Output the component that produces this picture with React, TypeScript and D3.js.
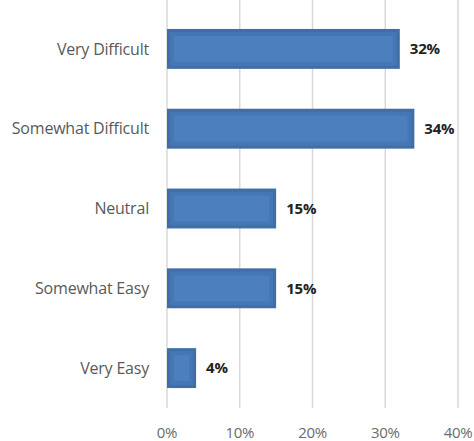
import React from "react";
import * as d3 from "d3";

const categories = ["Very Difficult", "Somewhat Difficult", "Neutral", "Somewhat Easy", "Very Easy"];
const values = [32, 34, 15, 15, 4];
const ticks = [0, 10, 20, 30, 40];

export default function App() {
  const W = 474, H = 441;
  const x = d3.scaleLinear().domain([0, 40]).range([167, 458]);
  const y = d3.scaleBand().domain(categories).range([9, 408]).paddingInner(0.5).paddingOuter(0.25);
  const font = "'Open Sans', sans-serif";
  return (
    <svg width={W} height={H} style={{ position: "absolute", left: 0, top: 0, background: "#fff" }}>
      {ticks.map((t) => (
        <line key={t} x1={x(t)} x2={x(t)} y1={0} y2={408} stroke="#d9d9d9" strokeWidth={1.5} />
      ))}
      {categories.map((c, i) => {
        const y0 = y(c)!;
        const bw = y.bandwidth();
        const x0 = x(0), x1 = x(values[i]);
        return (
          <g key={c}>
            <rect x={x0} y={y0} width={x1 - x0} height={bw} fill="#3f6ea8" />
            <rect x={x0 + 3} y={y0 + 3} width={Math.max(0, x1 - x0 - 6)} height={bw - 6} fill="#4577b4" />
            <rect x={x0 + 7} y={y0 + 7} width={Math.max(0, x1 - x0 - 14)} height={bw - 14} fill="#4c7fbd" />
            <text x={x1 + 10} y={y0 + bw / 2} dy="0.35em" fontFamily={font} fontWeight="bold" fontSize={15} letterSpacing={-0.2} fill="#222">
              {values[i]}%
            </text>
            <text x={149} y={y0 + bw / 2} dy="0.35em" textAnchor="end" fontFamily={font} fontSize={16} letterSpacing={-0.2} fill="#595959">
              {c}
            </text>
          </g>
        );
      })}
      {ticks.map((t) => (
        <text key={t} x={x(t)} y={433} textAnchor="middle" dy="0.35em" fontFamily={font} fontSize={15} letterSpacing={-0.3} fill="#6b6b6b">
          {t}%
        </text>
      ))}
    </svg>
  );
}
